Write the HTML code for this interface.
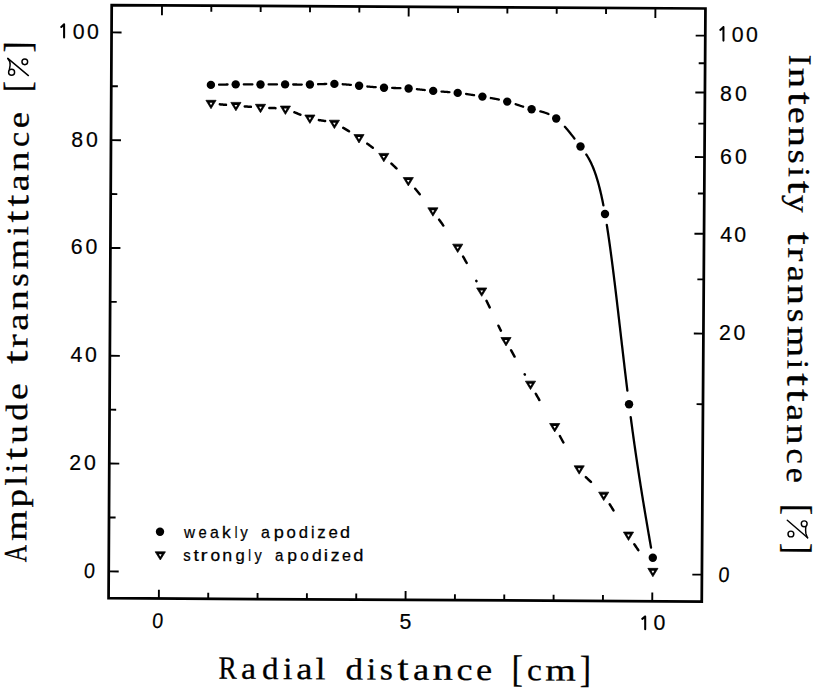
<!DOCTYPE html>
<html><head><meta charset="utf-8"><style>
html,body{margin:0;padding:0;background:#fff;}
svg{display:block}
.ss{font-family:"Liberation Sans",sans-serif}
.sf{font-family:"Liberation Serif",serif}
.tt text{stroke:#000;stroke-width:0.3px}
.lg text{stroke:#000;stroke-width:0.25px}
.nl{stroke:#000;stroke-width:0.2px}
</style></head><body>
<svg width="816" height="690" viewBox="0 0 816 690">
<polygon points="111.70,5.13 705.45,8.50 701.75,601.50 108.57,598.21" fill="none" stroke="#000" stroke-width="2.75" stroke-linejoin="miter"/>
<path d="M158.86 598.49L158.90 589.69 M162.00 5.42L161.95 15.22 M208.20 598.76L208.23 592.76 M211.34 5.70L211.31 11.70 M257.54 599.04L257.57 593.04 M260.68 5.98L260.65 11.98 M306.88 599.31L306.91 593.31 M310.02 6.26L309.99 12.26 M356.22 599.58L356.25 593.58 M359.36 6.54L359.33 12.54 M405.56 599.86L405.60 591.06 M408.70 6.82L408.65 16.62 M454.90 600.13L454.93 594.13 M458.04 7.10L458.01 13.10 M504.24 600.40L504.27 594.40 M507.38 7.38L507.35 13.38 M553.58 600.68L553.61 594.68 M556.72 7.66L556.69 13.66 M602.92 600.95L602.95 594.95 M606.06 7.94L606.03 13.94 M652.26 601.23L652.30 592.43 M655.40 8.22L655.35 18.02 M108.71 571.37L118.71 571.43 M109.00 517.47L115.60 517.51 M109.28 463.57L119.28 463.63 M109.57 409.67L116.16 409.71 M109.85 355.77L119.85 355.83 M110.13 301.87L116.73 301.91 M110.42 247.97L120.42 248.03 M110.70 194.07L117.30 194.11 M110.99 140.17L120.99 140.23 M111.27 86.27L117.87 86.31 M111.56 32.37L121.56 32.43 M701.92 574.63L692.32 574.58 M702.98 404.19L696.58 404.15 M703.42 333.59L693.82 333.53 M703.76 279.41L697.36 279.38 M704.04 233.74L694.44 233.69 M704.30 193.50L697.90 193.47 M704.52 157.13L694.92 157.07 M704.73 123.67L698.33 123.64 M704.93 92.54L695.33 92.49 M705.11 63.29L698.71 63.26 M705.28 35.63L695.68 35.58" stroke="#000" stroke-width="1.9" fill="none"/>
<path d="M219.05 84.68 L219.27 84.68 L219.58 84.67 L219.89 84.66 L220.20 84.65 L220.51 84.65 L220.82 84.64 L221.13 84.63 L221.44 84.62 L221.75 84.62 L222.06 84.61 L222.37 84.60 L222.68 84.59 L222.99 84.59 L223.30 84.58 L223.61 84.57 L223.92 84.57 L224.23 84.56 L224.54 84.55 L224.85 84.55 L225.16 84.54 L225.47 84.53 L225.78 84.53 L226.09 84.52 L226.40 84.52 L226.71 84.51 L227.02 84.51 L227.33 84.50 L227.55 84.50 M243.81 84.41 L244.07 84.41 L244.38 84.41 L244.69 84.41 L245.00 84.41 L245.31 84.41 L245.62 84.42 L245.93 84.42 L246.24 84.42 L246.55 84.42 L246.86 84.43 L247.17 84.43 L247.48 84.43 L247.79 84.43 L248.10 84.43 L248.41 84.44 L248.72 84.44 L249.03 84.44 L249.34 84.44 L249.65 84.45 L249.96 84.45 L250.27 84.45 L250.58 84.45 L250.89 84.46 L251.20 84.46 L251.51 84.46 L251.82 84.46 L252.13 84.46 L252.39 84.47 M268.61 84.47 L268.80 84.46 L269.11 84.46 L269.42 84.46 L269.73 84.46 L270.03 84.45 L270.34 84.45 L270.65 84.45 L270.95 84.45 L271.26 84.45 L271.57 84.44 L271.88 84.44 L272.19 84.44 L272.49 84.44 L272.80 84.43 L273.11 84.43 L273.42 84.43 L273.72 84.43 L274.03 84.43 L274.34 84.42 L274.65 84.42 L274.95 84.42 L275.26 84.42 L275.57 84.41 L275.88 84.41 L276.18 84.41 L276.49 84.41 L276.80 84.41 L276.99 84.41 M293.21 84.48 L293.47 84.48 L293.78 84.49 L294.09 84.49 L294.40 84.50 L294.71 84.50 L295.02 84.50 L295.33 84.51 L295.64 84.51 L295.95 84.51 L296.26 84.52 L296.57 84.52 L296.88 84.52 L297.19 84.53 L297.50 84.53 L297.81 84.53 L298.12 84.54 L298.43 84.54 L298.74 84.54 L299.05 84.54 L299.36 84.55 L299.67 84.55 L299.98 84.55 L300.29 84.55 L300.60 84.56 L300.91 84.56 L301.22 84.56 L301.53 84.56 L301.79 84.56 M318.05 84.24 L318.17 84.24 L318.47 84.22 L318.78 84.21 L319.09 84.20 L319.39 84.19 L319.70 84.18 L320.01 84.17 L320.31 84.15 L320.62 84.14 L320.92 84.13 L321.23 84.12 L321.54 84.11 L321.84 84.10 L322.15 84.09 L322.46 84.08 L322.76 84.06 L323.07 84.05 L323.38 84.04 L323.68 84.03 L323.99 84.02 L324.29 84.01 L324.60 84.00 L324.91 84.00 L325.21 83.99 L325.52 83.98 L325.82 83.97 L326.13 83.96 L326.24 83.96 M342.67 84.25 L342.74 84.25 L343.05 84.27 L343.35 84.29 L343.66 84.31 L343.97 84.33 L344.28 84.35 L344.59 84.38 L344.90 84.40 L345.21 84.42 L345.51 84.45 L345.82 84.47 L346.13 84.49 L346.44 84.52 L346.75 84.54 L347.06 84.57 L347.37 84.59 L347.68 84.62 L347.99 84.64 L348.29 84.67 L348.60 84.70 L348.91 84.72 L349.22 84.75 L349.53 84.78 L349.84 84.80 L350.15 84.83 L350.45 84.86 L350.76 84.89 L350.86 84.90 M367.35 86.50 L367.50 86.52 L367.81 86.55 L368.13 86.57 L368.44 86.60 L368.75 86.63 L369.06 86.66 L369.37 86.69 L369.68 86.71 L369.99 86.74 L370.31 86.77 L370.62 86.80 L370.93 86.82 L371.24 86.85 L371.55 86.88 L371.86 86.90 L372.17 86.93 L372.48 86.95 L372.80 86.98 L373.11 87.00 L373.42 87.03 L373.73 87.05 L374.04 87.08 L374.35 87.10 L374.66 87.13 L374.97 87.15 L375.29 87.17 L375.60 87.20 L375.72 87.21 M392.17 87.95 L392.30 87.95 L392.61 87.96 L392.92 87.97 L393.23 87.97 L393.53 87.98 L393.84 87.98 L394.15 87.99 L394.45 88.00 L394.76 88.00 L395.07 88.01 L395.38 88.02 L395.69 88.02 L395.99 88.03 L396.30 88.04 L396.61 88.04 L396.92 88.05 L397.22 88.06 L397.53 88.07 L397.84 88.07 L398.15 88.08 L398.45 88.09 L398.76 88.09 L399.07 88.10 L399.38 88.11 L399.68 88.12 L399.99 88.13 L400.30 88.14 L400.43 88.14 M416.90 89.20 L417.21 89.23 L417.52 89.26 L417.82 89.29 L418.13 89.32 L418.44 89.36 L418.75 89.39 L419.06 89.42 L419.36 89.45 L419.67 89.48 L419.98 89.52 L420.29 89.55 L420.59 89.58 L420.90 89.62 L421.21 89.65 L421.51 89.68 L421.82 89.72 L422.13 89.75 L422.44 89.78 L422.75 89.82 L423.05 89.85 L423.36 89.88 L423.67 89.92 L423.98 89.95 L424.28 89.98 L424.59 90.02 L424.90 90.05 L424.91 90.05 M441.47 91.56 L441.77 91.58 L442.08 91.60 L442.39 91.63 L442.69 91.65 L443.00 91.67 L443.31 91.69 L443.61 91.71 L443.92 91.73 L444.22 91.76 L444.53 91.78 L444.84 91.80 L445.14 91.82 L445.45 91.85 L445.76 91.87 L446.06 91.89 L446.37 91.91 L446.68 91.93 L446.98 91.96 L447.29 91.98 L447.59 92.00 L447.90 92.03 L448.21 92.05 L448.51 92.07 L448.82 92.10 L449.12 92.12 L449.43 92.14 L449.44 92.14 M466.09 93.98 L466.34 94.01 L466.65 94.06 L466.96 94.10 L467.27 94.15 L467.58 94.20 L467.89 94.24 L468.20 94.29 L468.51 94.33 L468.81 94.38 L469.12 94.43 L469.43 94.48 L469.74 94.52 L470.05 94.57 L470.36 94.62 L470.67 94.67 L470.98 94.72 L471.28 94.77 L471.59 94.82 L471.90 94.86 L472.21 94.91 L472.52 94.96 L472.83 95.01 L473.14 95.06 L473.45 95.11 L473.75 95.16 L474.06 95.21 M490.85 98.03 L491.08 98.07 L491.39 98.12 L491.70 98.18 L492.01 98.23 L492.32 98.29 L492.63 98.35 L492.94 98.40 L493.25 98.46 L493.56 98.52 L493.87 98.58 L494.18 98.63 L494.49 98.69 L494.80 98.75 L495.11 98.81 L495.42 98.87 L495.73 98.93 L496.04 98.99 L496.35 99.05 L496.66 99.11 L496.97 99.18 L497.28 99.24 L497.59 99.30 L497.90 99.37 L498.21 99.43 L498.52 99.50 L498.83 99.56 L498.87 99.57 M515.62 104.21 L515.74 104.25 L516.04 104.35 L516.35 104.45 L516.65 104.55 L516.96 104.65 L517.26 104.75 L517.57 104.85 L517.88 104.95 L518.18 105.06 L518.49 105.16 L518.79 105.26 L519.10 105.36 L519.40 105.46 L519.71 105.56 L520.01 105.67 L520.32 105.77 L520.62 105.87 L520.92 105.97 L521.23 106.07 L521.53 106.17 L521.84 106.27 L522.14 106.37 L522.45 106.47 L522.75 106.57 L523.06 106.67 L523.15 106.70 M540.30 111.30 L540.52 111.36 L540.83 111.44 L541.13 111.52 L541.44 111.60 L541.75 111.69 L542.06 111.77 L542.36 111.86 L542.67 111.95 L542.98 112.04 L543.29 112.13 L543.59 112.22 L543.90 112.32 L544.21 112.42 L544.51 112.51 L544.82 112.62 L545.13 112.72 L545.44 112.83 L545.75 112.93 L546.05 113.04 L546.36 113.16 L546.67 113.27 L546.98 113.39 L547.28 113.51 L547.59 113.63 L547.90 113.76 L548.21 113.89 L548.49 114.01 M564.88 126.76 L565.01 126.91 L565.31 127.25 L565.62 127.59 L565.92 127.94 L566.22 128.29 L566.53 128.64 L566.83 129.00 L567.13 129.36 L567.44 129.72 L567.74 130.08 L568.05 130.44 L568.35 130.81 L568.65 131.18 L568.96 131.55 L569.26 131.92 L569.57 132.30 L569.87 132.67 L570.17 133.05 L570.48 133.43 L570.78 133.81 L571.08 134.20 L571.39 134.58 L571.69 134.97 L572.00 135.36 L572.30 135.74 L572.60 136.13 L572.91 136.53 L573.21 136.92 L573.51 137.31 L573.82 137.71 L574.12 138.10 L574.42 138.50 L574.45 138.54 M586.30 154.52 L586.32 154.54 L586.62 155.01 L586.93 155.49 L587.24 155.98 L587.54 156.48 L587.85 156.99 L588.16 157.51 L588.46 158.04 L588.77 158.58 L589.08 159.13 L589.38 159.70 L589.69 160.27 L589.99 160.86 L590.30 161.46 L590.61 162.07 L590.91 162.70 L591.22 163.34 L591.52 164.00 L591.83 164.67 L592.14 165.36 L592.44 166.06 L592.75 166.78 L593.06 167.51 L593.36 168.27 L593.67 169.04 L593.98 169.83 L594.28 170.64 L594.59 171.46 L594.89 172.31 L595.20 173.18 L595.51 174.06 L595.81 174.97 L596.12 175.90 L596.42 176.85 L596.73 177.82 L597.04 178.82 L597.34 179.83 L597.65 180.87 L597.96 181.94 L598.26 183.03 L598.57 184.14 L598.88 185.28 L599.18 186.45 L599.49 187.64 L599.79 188.85 L600.10 190.10 L600.41 191.37 L600.71 192.67 L601.02 193.99 L601.33 195.35 L601.63 196.73 L601.94 198.15 L602.24 199.59 L602.55 201.06 L602.86 202.57 L603.16 204.10 L603.39 205.25 M606.80 224.85 L606.80 224.88 L607.10 226.79 L607.40 228.74 L607.71 230.72 L608.01 232.72 L608.31 234.75 L608.61 236.80 L608.91 238.89 L609.21 240.99 L609.51 243.12 L609.81 245.28 L610.11 247.45 L610.41 249.65 L610.71 251.88 L611.01 254.12 L611.31 256.38 L611.61 258.67 L611.91 260.97 L612.22 263.29 L612.52 265.63 L612.82 267.99 L613.12 270.36 L613.42 272.76 L613.72 275.16 L614.02 277.58 L614.32 280.02 L614.62 282.47 L614.92 284.93 L615.22 287.41 L615.52 289.90 L615.82 292.39 L616.12 294.90 L616.42 297.42 L616.72 299.95 L617.02 302.49 L617.33 305.04 L617.63 307.59 L617.93 310.15 L618.23 312.72 L618.53 315.29 L618.83 317.87 L619.13 320.46 L619.43 323.04 L619.73 325.63 L620.03 328.23 L620.33 330.82 L620.63 333.42 L620.93 336.01 L621.23 338.61 L621.53 341.21 L621.83 343.81 L622.14 346.40 L622.44 348.99 L622.74 351.58 L623.04 354.17 L623.34 356.75 L623.64 359.33 L623.94 361.90 L624.24 364.46 L624.54 367.02 L624.84 369.57 L625.14 372.12 L625.44 374.65 L625.74 377.18 L626.04 379.70 L626.34 382.20 L626.64 384.70 L626.95 387.18 L627.25 389.66 L627.37 390.70 M630.71 417.09 L630.83 418.01 L631.13 420.26 L631.42 422.49 L631.72 424.71 L632.02 426.91 L632.32 429.11 L632.61 431.28 L632.91 433.45 L633.21 435.60 L633.50 437.73 L633.80 439.86 L634.10 441.97 L634.39 444.06 L634.69 446.15 L634.99 448.22 L635.28 450.28 L635.58 452.33 L635.88 454.37 L636.17 456.40 L636.47 458.41 L636.77 460.42 L637.07 462.41 L637.36 464.39 L637.66 466.37 L637.96 468.33 L638.25 470.28 L638.55 472.22 L638.85 474.15 L639.14 476.08 L639.44 477.99 L639.74 479.89 L640.03 481.79 L640.33 483.68 L640.63 485.56 L640.92 487.43 L641.22 489.29 L641.52 491.14 L641.82 492.99 L642.11 494.83 L642.41 496.66 L642.71 498.49 L643.00 500.31 L643.30 502.12 L643.60 503.92 L643.89 505.72 L644.19 507.52 L644.49 509.30 L644.78 511.09 L645.08 512.86 L645.38 514.63 L645.67 516.40 L645.97 518.16 L646.27 519.92 L646.57 521.67 L646.86 523.42 L647.16 525.16 L647.46 526.90 L647.75 528.64 L648.05 530.37 L648.35 532.10 L648.64 533.83 L648.94 535.55 L649.24 537.27 L649.53 538.99 L649.83 540.71 L650.13 542.42 L650.42 544.14 L650.72 545.85 L651.02 547.55" stroke="#000" stroke-width="2.3" fill="none" stroke-linecap="round" stroke-linejoin="round"/>
<path d="M219.86 104.36 L220.07 104.37 L220.53 104.41 L220.98 104.45 L221.45 104.49 L221.91 104.53 L222.38 104.57 L222.85 104.61 L223.33 104.65 L223.81 104.69 L224.29 104.73 L224.77 104.77 L225.25 104.81 L225.73 104.86 L225.96 104.87 M244.75 106.40 L244.93 106.42 L245.34 106.45 L245.75 106.48 L246.16 106.51 L246.56 106.55 L246.97 106.58 L247.38 106.61 L247.79 106.64 L248.20 106.67 L248.61 106.70 L249.02 106.73 L249.43 106.77 L249.84 106.80 L250.24 106.83 L250.65 106.86 L250.84 106.87 M269.35 107.94 L269.62 107.95 L270.04 107.96 L270.46 107.97 L270.87 107.98 L271.29 107.99 L271.71 108.00 L272.12 108.01 L272.54 108.02 L272.96 108.03 L273.37 108.05 L273.79 108.06 L274.21 108.08 L274.62 108.10 L275.04 108.12 L275.45 108.14 M294.42 112.26 L294.82 112.43 L295.23 112.59 L295.64 112.76 L296.04 112.93 L296.45 113.10 L296.86 113.27 L297.27 113.44 L297.67 113.61 L298.08 113.78 L298.49 113.95 L298.90 114.13 L299.30 114.30 L299.71 114.47 L300.12 114.64 L300.40 114.76 M318.89 120.09 L319.29 120.15 L319.70 120.21 L320.10 120.27 L320.51 120.32 L320.92 120.38 L321.33 120.44 L321.74 120.50 L322.14 120.56 L322.55 120.62 L322.96 120.68 L323.37 120.74 L323.78 120.81 L324.18 120.87 L324.59 120.94 L325.00 121.01 L325.11 121.03 M343.25 127.83 L343.40 127.92 L343.81 128.15 L344.22 128.39 L344.63 128.62 L345.04 128.87 L345.45 129.11 L345.86 129.35 L346.27 129.60 L346.68 129.85 L347.09 130.10 L347.50 130.35 L347.91 130.61 L348.32 130.86 L348.73 131.12 L349.00 131.29 M367.28 143.66 L367.68 143.94 L368.09 144.24 L368.51 144.54 L368.92 144.85 L369.33 145.15 L369.75 145.46 L370.16 145.76 L370.58 146.07 L370.99 146.38 L371.41 146.69 L371.82 147.00 L372.23 147.32 L372.65 147.63 L372.78 147.73 M391.45 163.62 L391.58 163.74 L391.99 164.13 L392.39 164.51 L392.80 164.90 L393.21 165.29 L393.62 165.68 L394.02 166.07 L394.43 166.47 L394.84 166.86 L395.25 167.26 L395.65 167.66 L396.06 168.06 L396.47 168.46 L396.48 168.47 M415.20 188.74 L415.26 188.80 L415.67 189.28 L416.08 189.77 L416.49 190.26 L416.89 190.74 L417.30 191.23 L417.71 191.72 L418.12 192.22 L418.53 192.71 L418.94 193.21 L419.35 193.71 L419.74 194.18 M439.16 219.66 L439.52 220.16 L439.94 220.74 L440.35 221.32 L440.77 221.90 L441.18 222.49 L441.60 223.07 L442.01 223.66 L442.43 224.25 L442.84 224.84 L443.26 225.44 L443.30 225.49 M463.14 256.68 L463.35 257.04 L463.75 257.74 L464.15 258.45 L464.55 259.15 L464.95 259.86 L465.35 260.57 L465.75 261.29 L466.15 262.00 L466.55 262.72 L466.69 262.98 M476.32 280.91 L476.44 281.14 M486.53 300.87 L486.54 300.89 L486.94 301.71 L487.35 302.54 L487.75 303.37 L488.15 304.20 L488.56 305.04 L488.96 305.88 L489.37 306.72 L489.69 307.40 M498.45 325.69 L498.69 326.19 L499.09 327.02 L499.50 327.86 L499.90 328.69 L500.31 329.52 L500.72 330.35 L500.85 330.63 M511.06 350.23 L511.30 350.67 L511.71 351.42 L512.12 352.16 L512.53 352.90 L512.94 353.63 L513.34 354.37 L513.75 355.10 L514.16 355.84 L514.56 356.55 M524.66 374.24 L524.80 374.48 L524.84 374.55 M535.78 393.75 L536.16 394.42 L536.56 395.13 L536.97 395.84 L537.37 396.55 L537.77 397.25 L538.18 397.96 L538.58 398.66 L538.98 399.37 L539.35 400.02 M559.92 436.13 L559.99 436.26 L560.40 437.01 L560.80 437.75 L561.21 438.50 L561.62 439.25 L562.03 440.00 L562.44 440.75 L562.84 441.49 L563.25 442.24 L563.37 442.46 M585.86 477.05 L586.13 477.34 L586.54 477.75 L586.95 478.16 L587.36 478.56 L587.76 478.96 L588.17 479.36 L588.58 479.75 L588.99 480.14 L589.39 480.52 L589.80 480.91 L590.21 481.29 L590.62 481.67 L590.91 481.94 M609.70 504.25 L609.89 504.56 L610.30 505.21 L610.72 505.87 L611.13 506.54 L611.54 507.21 L611.96 507.88 L612.37 508.56 L612.79 509.24 L613.20 509.92 L613.47 510.37 M634.33 544.22 L634.73 544.82 L635.20 545.53 L635.67 546.23 L636.14 546.94 L636.62 547.65 L637.09 548.35 L637.57 549.06 L638.04 549.77 L638.31 550.17" stroke="#000" stroke-width="2.5" fill="none" stroke-linecap="round"/>
<circle cx="210.90" cy="84.90" r="4.2"/>
<circle cx="235.70" cy="84.40" r="4.2"/>
<circle cx="260.50" cy="84.50" r="4.2"/>
<circle cx="285.10" cy="84.40" r="4.2"/>
<circle cx="309.90" cy="84.50" r="4.2"/>
<circle cx="334.40" cy="83.90" r="4.2"/>
<circle cx="359.10" cy="85.70" r="4.2"/>
<circle cx="384.00" cy="87.70" r="4.2"/>
<circle cx="408.60" cy="88.50" r="4.2"/>
<circle cx="433.20" cy="90.90" r="4.2"/>
<circle cx="457.70" cy="92.90" r="4.2"/>
<circle cx="482.40" cy="96.60" r="4.2"/>
<circle cx="507.20" cy="101.60" r="4.2"/>
<circle cx="531.60" cy="109.20" r="4.2"/>
<circle cx="556.20" cy="118.50" r="4.2"/>
<circle cx="580.50" cy="146.50" r="4.2"/>
<circle cx="605.00" cy="214.00" r="4.2"/>
<circle cx="629.05" cy="404.20" r="4.2"/>
<circle cx="652.80" cy="557.80" r="4.2"/>
<path d="M205.90 100.30L216.10 100.30L211.00 108.70Z" stroke="#000" stroke-width="0.7" stroke-linejoin="round"/><path d="M209.60 102.80L212.40 102.80L211.00 105.20Z" fill="#fff"/>
<path d="M230.80 102.40L241.00 102.40L235.90 110.80Z" stroke="#000" stroke-width="0.7" stroke-linejoin="round"/><path d="M234.50 104.90L237.30 104.90L235.90 107.30Z" fill="#fff"/>
<path d="M255.40 104.30L265.60 104.30L260.50 112.70Z" stroke="#000" stroke-width="0.7" stroke-linejoin="round"/><path d="M259.10 106.80L261.90 106.80L260.50 109.20Z" fill="#fff"/>
<path d="M280.30 106.05L290.50 106.05L285.40 114.45Z" stroke="#000" stroke-width="0.7" stroke-linejoin="round"/><path d="M284.00 108.55L286.80 108.55L285.40 110.95Z" fill="#fff"/>
<path d="M304.80 115.00L315.00 115.00L309.90 123.40Z" stroke="#000" stroke-width="0.7" stroke-linejoin="round"/><path d="M308.50 117.50L311.30 117.50L309.90 119.90Z" fill="#fff"/>
<path d="M329.30 120.20L339.50 120.20L334.40 128.60Z" stroke="#000" stroke-width="0.7" stroke-linejoin="round"/><path d="M333.00 122.70L335.80 122.70L334.40 125.10Z" fill="#fff"/>
<path d="M353.90 134.60L364.10 134.60L359.00 143.00Z" stroke="#000" stroke-width="0.7" stroke-linejoin="round"/><path d="M357.60 137.10L360.40 137.10L359.00 139.50Z" fill="#fff"/>
<path d="M378.70 153.40L388.90 153.40L383.80 161.80Z" stroke="#000" stroke-width="0.7" stroke-linejoin="round"/><path d="M382.40 155.90L385.20 155.90L383.80 158.30Z" fill="#fff"/>
<path d="M403.20 177.55L413.40 177.55L408.30 185.95Z" stroke="#000" stroke-width="0.7" stroke-linejoin="round"/><path d="M406.90 180.05L409.70 180.05L408.30 182.45Z" fill="#fff"/>
<path d="M427.80 207.80L438.00 207.80L432.90 216.20Z" stroke="#000" stroke-width="0.7" stroke-linejoin="round"/><path d="M431.50 210.30L434.30 210.30L432.90 212.70Z" fill="#fff"/>
<path d="M452.60 244.15L462.80 244.15L457.70 252.55Z" stroke="#000" stroke-width="0.7" stroke-linejoin="round"/><path d="M456.30 246.65L459.10 246.65L457.70 249.05Z" fill="#fff"/>
<path d="M476.60 287.95L486.80 287.95L481.70 296.35Z" stroke="#000" stroke-width="0.7" stroke-linejoin="round"/><path d="M480.30 290.45L483.10 290.45L481.70 292.85Z" fill="#fff"/>
<path d="M500.90 337.50L511.10 337.50L506.00 345.90Z" stroke="#000" stroke-width="0.7" stroke-linejoin="round"/><path d="M504.60 340.00L507.40 340.00L506.00 342.40Z" fill="#fff"/>
<path d="M525.40 381.15L535.60 381.15L530.50 389.55Z" stroke="#000" stroke-width="0.7" stroke-linejoin="round"/><path d="M529.10 383.65L531.90 383.65L530.50 386.05Z" fill="#fff"/>
<path d="M549.60 423.50L559.80 423.50L554.70 431.90Z" stroke="#000" stroke-width="0.7" stroke-linejoin="round"/><path d="M553.30 426.00L556.10 426.00L554.70 428.40Z" fill="#fff"/>
<path d="M574.10 465.80L584.30 465.80L579.20 474.20Z" stroke="#000" stroke-width="0.7" stroke-linejoin="round"/><path d="M577.80 468.30L580.60 468.30L579.20 470.70Z" fill="#fff"/>
<path d="M598.60 492.15L608.80 492.15L603.70 500.55Z" stroke="#000" stroke-width="0.7" stroke-linejoin="round"/><path d="M602.30 494.65L605.10 494.65L603.70 497.05Z" fill="#fff"/>
<path d="M623.40 532.05L633.60 532.05L628.50 540.45Z" stroke="#000" stroke-width="0.7" stroke-linejoin="round"/><path d="M627.10 534.55L629.90 534.55L628.50 536.95Z" fill="#fff"/>
<path d="M647.80 568.35L658.00 568.35L652.90 576.75Z" stroke="#000" stroke-width="0.7" stroke-linejoin="round"/><path d="M651.50 570.85L654.30 570.85L652.90 573.25Z" fill="#fff"/>
<circle cx="160" cy="531.7" r="4.2"/>
<path d="M155.15 551.80L165.45 551.80L160.30 560.00Z" stroke="#000" stroke-width="0.7" stroke-linejoin="round"/><path d="M158.90 554.30L161.70 554.30L160.30 556.70Z" fill="#fff"/>
<g transform="translate(219.00 678.70) rotate(0.31)" class="sf tt"><text transform="translate(8.90 0.00) scale(0.841 1)" x="-11.28" y="0" font-size="32.5">R</text><text transform="translate(30.00 0.00) scale(1.044 0.95)" x="-7.56" y="0" font-size="32.5">a</text><text transform="translate(51.75 0.00) scale(1.015 0.95)" x="-8.51" y="0" font-size="32.5">d</text><text transform="translate(68.85 0.00) scale(1.048 0.95)" x="-4.55" y="0" font-size="32.5">i</text><text transform="translate(85.80 0.00) scale(1.122 0.95)" x="-7.56" y="0" font-size="32.5">a</text><text transform="translate(101.45 0.00) scale(1.100 0.95)" x="-4.51" y="0" font-size="32.5">l</text><text transform="translate(135.70 0.00) scale(1.076 0.95)" x="-8.51" y="0" font-size="32.5">d</text><text transform="translate(152.40 0.00) scale(1.035 0.95)" x="-4.55" y="0" font-size="32.5">i</text><text transform="translate(167.35 0.00) scale(1.035 0.95)" x="-6.40" y="0" font-size="32.5">s</text><text transform="translate(184.00 0.00) scale(1.220 1.1)" x="-4.58" y="0" font-size="32.5">t</text><text transform="translate(202.50 0.00) scale(1.122 0.95)" x="-7.56" y="0" font-size="32.5">a</text><text transform="translate(223.80 0.00) scale(1.252 0.95)" x="-8.25" y="0" font-size="32.5">n</text><text transform="translate(245.65 0.00) scale(1.108 0.95)" x="-7.33" y="0" font-size="32.5">c</text><text transform="translate(265.00 0.00) scale(1.114 0.95)" x="-7.28" y="0" font-size="32.5">e</text><text transform="translate(298.80 1.30) scale(0.898 1)" x="-7.05" y="0" font-size="38.0">[</text><text transform="translate(315.45 0.00) scale(1.026 0.95)" x="-7.33" y="0" font-size="32.5">c</text><text transform="translate(341.65 0.00) scale(1.208 0.95)" x="-12.73" y="0" font-size="32.5">m</text><text transform="translate(365.65 1.30) scale(0.886 1)" x="-5.60" y="0" font-size="38.0">]</text></g>
<g transform="translate(26.20 563.00) rotate(-89.69)" class="sf tt"><text transform="translate(9.50 0.00) scale(0.742 1)" x="-11.77" y="0" font-size="32.5">A</text><text transform="translate(37.40 0.00) scale(1.212 0.95)" x="-12.73" y="0" font-size="32.5">m</text><text transform="translate(64.40 0.00) scale(1.134 0.95)" x="-7.75" y="0" font-size="32.5">p</text><text transform="translate(82.15 0.00) scale(1.074 0.95)" x="-4.51" y="0" font-size="32.5">l</text><text transform="translate(94.60 0.00) scale(1.009 0.95)" x="-4.55" y="0" font-size="32.5">i</text><text transform="translate(109.25 0.00) scale(1.326 1.1)" x="-4.58" y="0" font-size="32.5">t</text><text transform="translate(128.50 0.00) scale(1.140 0.95)" x="-8.06" y="0" font-size="32.5">u</text><text transform="translate(151.45 0.00) scale(1.070 0.95)" x="-8.51" y="0" font-size="32.5">d</text><text transform="translate(171.35 0.00) scale(1.156 0.95)" x="-7.28" y="0" font-size="32.5">e</text><text transform="translate(205.80 0.00) scale(1.455 1.1)" x="-4.58" y="0" font-size="32.5">t</text><text transform="translate(222.00 0.00) scale(1.254 0.95)" x="-5.59" y="0" font-size="32.5">r</text><text transform="translate(241.30 0.00) scale(1.200 0.95)" x="-7.56" y="0" font-size="32.5">a</text><text transform="translate(262.95 0.00) scale(1.232 0.95)" x="-8.25" y="0" font-size="32.5">n</text><text transform="translate(283.15 0.00) scale(1.075 0.95)" x="-6.40" y="0" font-size="32.5">s</text><text transform="translate(308.95 0.00) scale(1.208 0.95)" x="-12.73" y="0" font-size="32.5">m</text><text transform="translate(332.30 0.00) scale(1.035 0.95)" x="-4.55" y="0" font-size="32.5">i</text><text transform="translate(346.55 0.00) scale(1.303 1.1)" x="-4.58" y="0" font-size="32.5">t</text><text transform="translate(362.35 0.00) scale(1.279 1.1)" x="-4.58" y="0" font-size="32.5">t</text><text transform="translate(380.45 0.00) scale(1.161 0.95)" x="-7.56" y="0" font-size="32.5">a</text><text transform="translate(401.85 0.00) scale(1.219 0.95)" x="-8.25" y="0" font-size="32.5">n</text><text transform="translate(423.55 0.00) scale(1.042 0.95)" x="-7.33" y="0" font-size="32.5">c</text><text transform="translate(442.85 0.00) scale(1.122 0.95)" x="-7.28" y="0" font-size="32.5">e</text><text transform="translate(476.95 1.30) scale(0.863 1)" x="-7.05" y="0" font-size="38.0">[</text><text transform="translate(515.25 1.30) scale(0.863 1)" x="-5.60" y="0" font-size="38.0">]</text></g>
<g transform="translate(789.30 50.00) rotate(90.31)" class="sf tt"><text transform="translate(10.15 0.00) scale(0.976 1)" x="-5.43" y="0" font-size="32.5">I</text><text transform="translate(28.15 0.00) scale(1.259 0.95)" x="-8.25" y="0" font-size="32.5">n</text><text transform="translate(48.45 0.00) scale(1.396 1.1)" x="-4.58" y="0" font-size="32.5">t</text><text transform="translate(65.35 0.00) scale(1.156 0.95)" x="-7.28" y="0" font-size="32.5">e</text><text transform="translate(86.70 0.00) scale(1.266 0.95)" x="-8.25" y="0" font-size="32.5">n</text><text transform="translate(106.70 0.00) scale(1.124 0.95)" x="-6.40" y="0" font-size="32.5">s</text><text transform="translate(122.15 0.00) scale(1.074 0.95)" x="-4.55" y="0" font-size="32.5">i</text><text transform="translate(137.15 0.00) scale(1.396 1.1)" x="-4.58" y="0" font-size="32.5">t</text><text transform="translate(153.85 0.00) scale(1.075 0.95)" x="-8.26" y="0" font-size="32.5">y</text><text transform="translate(188.45 0.00) scale(1.396 1.1)" x="-4.58" y="0" font-size="32.5">t</text><text transform="translate(204.65 0.00) scale(1.305 0.95)" x="-5.59" y="0" font-size="32.5">r</text><text transform="translate(224.20 0.00) scale(1.122 0.95)" x="-7.56" y="0" font-size="32.5">a</text><text transform="translate(244.95 0.00) scale(1.259 0.95)" x="-8.25" y="0" font-size="32.5">n</text><text transform="translate(265.75 0.00) scale(1.075 0.95)" x="-6.40" y="0" font-size="32.5">s</text><text transform="translate(291.70 0.00) scale(1.237 0.95)" x="-12.73" y="0" font-size="32.5">m</text><text transform="translate(314.40 0.00) scale(1.009 0.95)" x="-4.55" y="0" font-size="32.5">i</text><text transform="translate(329.55 0.00) scale(1.396 1.1)" x="-4.58" y="0" font-size="32.5">t</text><text transform="translate(345.45 0.00) scale(1.396 1.1)" x="-4.58" y="0" font-size="32.5">t</text><text transform="translate(363.25 0.00) scale(1.161 0.95)" x="-7.56" y="0" font-size="32.5">a</text><text transform="translate(384.60 0.00) scale(1.252 0.95)" x="-8.25" y="0" font-size="32.5">n</text><text transform="translate(406.25 0.00) scale(1.058 0.95)" x="-7.33" y="0" font-size="32.5">c</text><text transform="translate(425.30 0.00) scale(1.031 0.95)" x="-7.28" y="0" font-size="32.5">e</text><text transform="translate(460.15 1.30) scale(0.863 1)" x="-7.05" y="0" font-size="38.0">[</text><text transform="translate(497.85 1.30) scale(0.863 1)" x="-5.60" y="0" font-size="38.0">]</text></g>
<g fill="none" stroke="#000" stroke-width="1.45" stroke-linecap="round"><path d="M7.8 58.4L28.4 75.6"/><circle cx="24.8" cy="61.8" r="2.85"/><circle cx="11.6" cy="72.2" r="3.0"/><path d="M7.8 58.4Q10.6 61.5 10.1 65.2Q9.8 67.5 9.4 69.4"/><path d="M787.3 520.2L807.6 537.8"/><circle cx="804.2" cy="523.8" r="2.9"/><circle cx="790.9" cy="534.0" r="2.9"/><path d="M805.8 526.9Q805.3 530.5 805.9 533.5Q806.6 536.2 807.6 537.8"/></g>
<g class="ss lg"><text transform="translate(189.45 538.00) scale(0.889 1)" x="-6.22" y="0" font-size="17.2">w</text><text transform="translate(202.65 538.00) scale(0.855 1)" x="-4.77" y="0" font-size="17.2">e</text><text transform="translate(214.70 538.00) scale(0.928 1)" x="-5.15" y="0" font-size="17.2">a</text><text transform="translate(226.90 538.00) scale(1.018 1)" x="-4.89" y="0" font-size="17.2">k</text><text transform="translate(236.15 538.00) scale(0.700 1)" x="-1.91" y="0" font-size="17.2">l</text><text transform="translate(244.15 538.00) scale(0.880 1)" x="-4.30" y="0" font-size="17.2">y</text><text transform="translate(265.70 538.00) scale(0.928 1)" x="-5.15" y="0" font-size="17.2">a</text><text transform="translate(279.00 538.00) scale(1.060 1)" x="-4.98" y="0" font-size="17.2">p</text><text transform="translate(291.25 538.00) scale(0.973 1)" x="-4.78" y="0" font-size="17.2">o</text><text transform="translate(303.15 538.00) scale(0.970 1)" x="-4.59" y="0" font-size="17.2">d</text><text transform="translate(312.70 538.00) scale(0.926 1)" x="-1.91" y="0" font-size="17.2">i</text><text transform="translate(321.35 538.00) scale(0.979 1)" x="-4.22" y="0" font-size="17.2">z</text><text transform="translate(333.25 538.00) scale(0.979 1)" x="-4.77" y="0" font-size="17.2">e</text><text transform="translate(344.75 538.00) scale(1.047 1)" x="-4.59" y="0" font-size="17.2">d</text></g>
<g class="ss lg"><text transform="translate(186.85 560.70) scale(0.867 1)" x="-4.23" y="0" font-size="17.2">s</text><text transform="translate(196.15 560.70) scale(1.116 1)" x="-2.46" y="0" font-size="17.2">t</text><text transform="translate(204.45 560.70) scale(1.233 1)" x="-3.29" y="0" font-size="17.2">r</text><text transform="translate(215.40 560.70) scale(1.010 1)" x="-4.78" y="0" font-size="17.2">o</text><text transform="translate(227.20 560.70) scale(1.040 1)" x="-4.80" y="0" font-size="17.2">n</text><text transform="translate(239.95 560.70) scale(0.970 1)" x="-4.59" y="0" font-size="17.2">g</text><text transform="translate(249.70 560.70) scale(0.700 1)" x="-1.91" y="0" font-size="17.2">l</text><text transform="translate(258.00 560.70) scale(0.845 1)" x="-4.30" y="0" font-size="17.2">y</text><text transform="translate(279.50 560.70) scale(0.883 1)" x="-5.15" y="0" font-size="17.2">a</text><text transform="translate(292.25 560.70) scale(1.021 1)" x="-4.98" y="0" font-size="17.2">p</text><text transform="translate(304.60 560.70) scale(0.887 1)" x="-4.78" y="0" font-size="17.2">o</text><text transform="translate(316.65 560.70) scale(1.021 1)" x="-4.59" y="0" font-size="17.2">d</text><text transform="translate(325.95 560.70) scale(1.125 1)" x="-1.91" y="0" font-size="17.2">i</text><text transform="translate(335.00 560.70) scale(1.022 1)" x="-4.22" y="0" font-size="17.2">z</text><text transform="translate(346.60 560.70) scale(0.942 1)" x="-4.77" y="0" font-size="17.2">e</text><text transform="translate(358.10 560.70) scale(1.060 1)" x="-4.59" y="0" font-size="17.2">d</text></g>
<text x="72.83 86.99" y="38.59" font-size="21.3" class="ss nl">00</text>
<text x="71.17 86.09" y="146.69" font-size="21.3" class="ss nl">80</text>
<text x="70.82 85.49" y="254.39" font-size="21.3" class="ss nl">60</text>
<text x="70.41 84.89" y="361.69" font-size="21.3" class="ss nl">40</text>
<text x="69.13 83.89" y="469.69" font-size="21.3" class="ss nl">20</text>
<text transform="translate(89.45 570.20) skewX(-4) scale(0.93 1) translate(-89.45 -570.20)" x="83.53" y="577.59" font-size="21.3" class="ss nl">0</text>
<text x="731.83 746.09" y="41.79" font-size="21.3" class="ss nl">00</text>
<text x="720.07 734.99" y="100.99" font-size="21.3" class="ss nl">80</text>
<text x="719.92 734.99" y="164.39" font-size="21.3" class="ss nl">60</text>
<text x="720.21 734.29" y="242.49" font-size="21.3" class="ss nl">40</text>
<text x="719.03 733.59" y="340.09" font-size="21.3" class="ss nl">20</text>
<text transform="translate(724.05 574.35) skewX(-4) scale(0.93 1) translate(-724.05 -574.35)" x="718.13" y="581.59" font-size="21.3" class="ss nl">0</text>
<text transform="translate(157.90 620.15) skewX(-4) scale(0.93 1) translate(-157.90 -620.15)" x="151.98" y="627.59" font-size="21.3" class="ss nl">0</text>
<text x="399.55" y="629.00" font-size="21.3" class="ss nl">5</text>
<text x="653.39" y="629.59" font-size="21.3" class="ss nl">0</text>
<path d="M64.10 24.30L64.10 37.40M63.90 24.50L61.30 27.00 M723.45 27.00L723.45 40.60M723.25 27.20L720.30 29.90 M645.20 616.40L645.20 629.20M645.00 616.60L642.30 618.90" stroke="#000" stroke-width="2.05" stroke-linecap="round" fill="none"/>
</svg>
</body></html>
